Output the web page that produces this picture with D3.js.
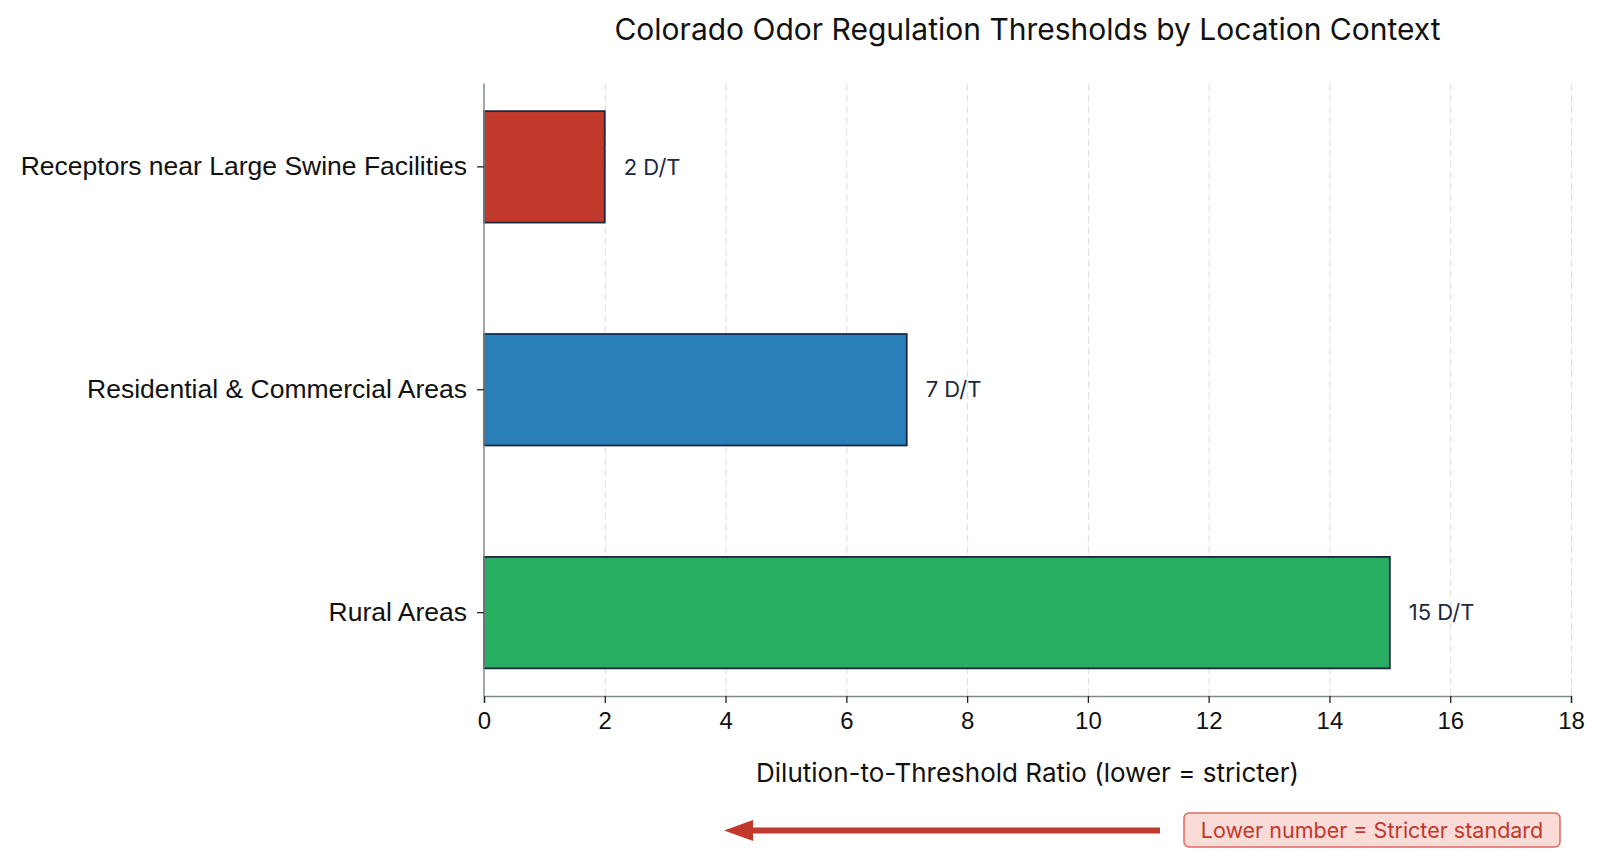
<!DOCTYPE html>
<html>
<head>
<meta charset="utf-8">
<script src="https://cdn.jsdelivr.net/npm/d3@7"></script>
<style>
  body { margin: 0; background: #fff; }
  svg { font-family: "Inter", "Roboto", sans-serif; }
  .grid line { stroke: #dcdcdc; stroke-dasharray: 7,4; }
  .grid .domain { display: none; }
</style>
</head>
<body>
<div class="container"></div>
<script>
let categories = ['Receptors near Large Swine Facilities', 'Residential & Commercial Areas', 'Rural Areas']
let values = [2, 7, 15]
let colors = ['#c0392b', '#2980b9', '#27ae60']
let xTicks = [0, 2, 4, 6, 8, 10, 12, 14, 16, 18]

let width = 1600
let height = 857
let margin = {
    top: 83.5,
    left: 484,
    bottom: 161,
    right: 29
}

let svg = d3.select('.container')
    .append('svg')
    .attr('width', width)
    .attr('height', height)

let xScale = d3.scaleLinear()
    .domain([0, 18])
    .range([margin.left, width - margin.right])

let yScale = d3.scaleBand()
    .domain(categories)
    .range([margin.top, height - margin.bottom])
    .paddingInner(0.5)
    .paddingOuter(0.124)

// dashed vertical grid
svg.append('g')
    .attr('class', 'grid')
    .attr('transform', `translate(0,${height - margin.bottom})`)
    .call(d3.axisBottom(xScale)
        .tickValues(xTicks.slice(1))
        .tickSize(-(height - margin.top - margin.bottom))
        .tickFormat(''))

svg.selectAll('rect.bar')
    .data(values)
    .enter()
    .append('rect')
    .attr('class', 'bar')
    .attr('x', xScale(0))
    .attr('y', (d, i) => yScale(categories[i]))
    .attr('width', d => xScale(d) - xScale(0))
    .attr('height', yScale.bandwidth())
    .attr('fill', (d, i) => colors[i])
    .attr('stroke', '#1c2841')
    .attr('stroke-width', 1.8)

svg.selectAll('text.value')
    .data(values)
    .enter()
    .append('text')
    .attr('class', 'value')
    .attr('x', d => xScale(d) + 19)
    .attr('y', (d, i) => yScale(categories[i]) + yScale.bandwidth() / 2)
    .attr('dy', '0.35em')
    .attr('fill', '#1c2841')
    .style('font-size', '22px')
    .text(d => `${d} D/T`)

let xAxis = svg.append('g')
    .attr('transform', `translate(0,${height - margin.bottom})`)
    .call(d3.axisBottom(xScale).tickValues(xTicks).tickSize(7))
xAxis.select('.domain').attr('stroke', '#7f8c8d').attr('stroke-width', 1.5)
xAxis.selectAll('.tick line').attr('stroke', '#222').attr('stroke-width', 1.3)
xAxis.selectAll('.tick text')
    .attr('fill', '#111')
    .attr('y', 25)
    .attr('dy', '0.35em')
    .style('font-size', '24px')

let yAxis = svg.append('g')
    .attr('transform', `translate(${margin.left},0)`)
    .call(d3.axisLeft(yScale).tickSize(7).tickPadding(10))
yAxis.select('.domain').attr('stroke', '#7f8c8d').attr('stroke-width', 1.5)
    .attr('d', `M0,${margin.top}V${height - margin.bottom}`)
yAxis.selectAll('.tick line').attr('stroke', '#222').attr('stroke-width', 1.3)
yAxis.selectAll('.tick text').attr('fill', '#111').style('font-size', '26.5px')

let cx = (xScale.range()[0] + xScale.range()[1]) / 2

svg.append('text')
    .attr('x', cx)
    .attr('y', 29)
    .attr('dy', '0.35em')
    .attr('text-anchor', 'middle')
    .attr('fill', '#111')
    .style('font-size', '30px')
    .text('Colorado Odor Regulation Thresholds by Location Context')

svg.append('text')
    .attr('x', cx)
    .attr('y', 773)
    .attr('dy', '0.35em')
    .attr('text-anchor', 'middle')
    .attr('fill', '#111')
    .style('font-size', '26px')
    .text('Dilution-to-Threshold Ratio (lower = stricter)')

// annotation arrow and note
svg.append('line')
    .attr('x1', 1160)
    .attr('y1', 830.5)
    .attr('x2', 750)
    .attr('y2', 830.5)
    .attr('stroke', '#c0392b')
    .attr('stroke-width', 6)

svg.append('path')
    .attr('d', 'M724,830.5L753,820L753,841Z')
    .attr('fill', '#c0392b')

svg.append('rect')
    .attr('x', 1184)
    .attr('y', 813)
    .attr('width', 376)
    .attr('height', 34)
    .attr('rx', 5)
    .attr('fill', '#fadbd8')
    .attr('stroke', '#e06b5f')
    .attr('stroke-width', 1.5)

svg.append('text')
    .attr('x', 1372)
    .attr('y', 830)
    .attr('dy', '0.35em')
    .attr('text-anchor', 'middle')
    .attr('fill', '#c0392b')
    .style('font-size', '21.5px')
    .text('Lower number = Stricter standard')
</script>
</body>
</html>
